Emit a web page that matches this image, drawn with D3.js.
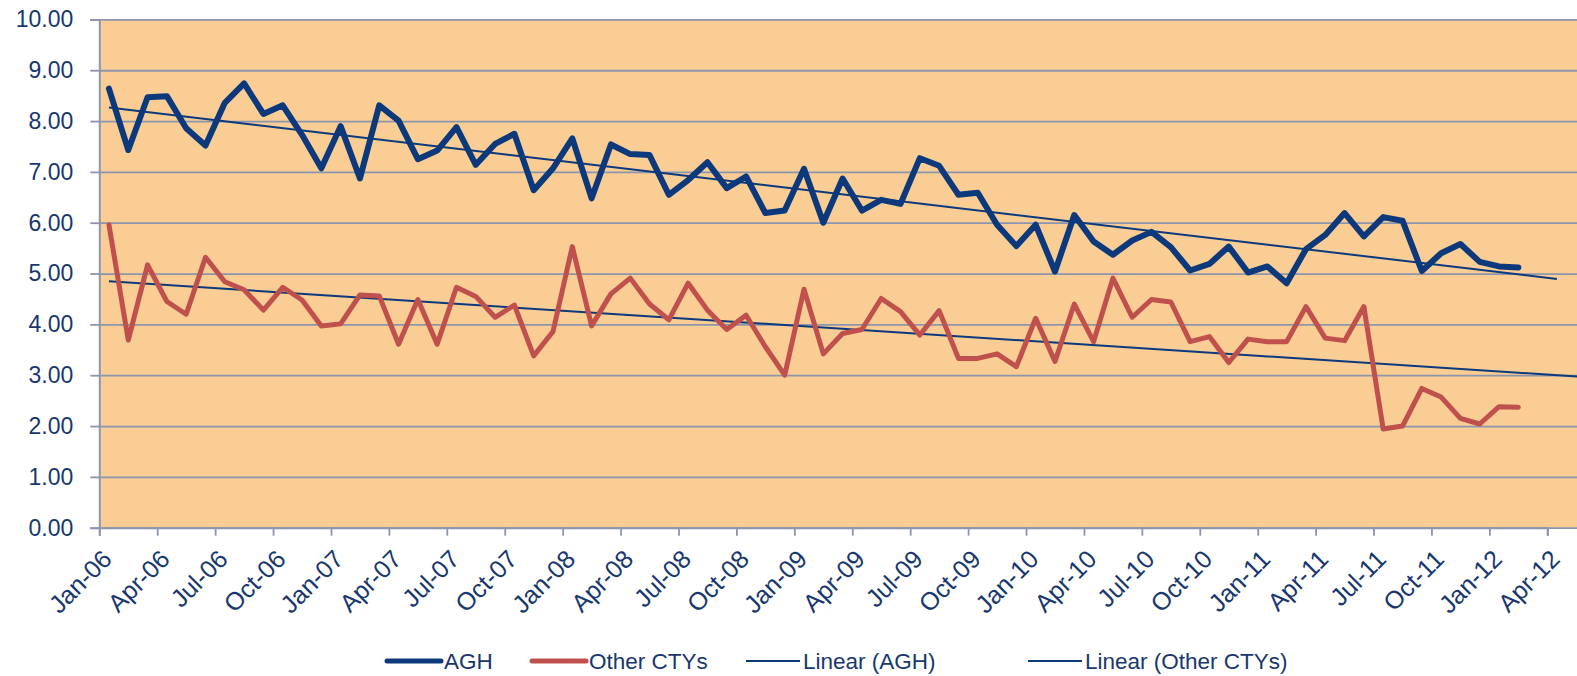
<!DOCTYPE html>
<html>
<head>
<meta charset="utf-8">
<script src="https://cdn.jsdelivr.net/npm/d3@7"></script>
<style>
  html, body { margin: 0; padding: 0; background: #fff; }
  svg { display: block; font-family: "Liberation Sans", Arial, sans-serif; }
</style>
</head>
<body>
<div id="chart"></div>
<script>
// Monthly series, Jan-06 .. Feb-12
const agh = [
    8.64, 7.43, 8.47, 8.49, 7.86, 7.52, 8.36, 8.74, 8.14, 8.31,
    7.73, 7.07, 7.90, 6.87, 8.31, 8.01, 7.25, 7.42, 7.88, 7.14,
    7.55, 7.75, 6.64, 7.07, 7.66, 6.48, 7.54, 7.35, 7.33, 6.55,
    6.84, 7.19, 6.68, 6.91, 6.19, 6.24, 7.06, 6.00, 6.87, 6.24,
    6.45, 6.37, 7.27, 7.12, 6.55, 6.59, 5.96, 5.54, 5.96, 5.04,
    6.15, 5.63, 5.37, 5.65, 5.82, 5.52, 5.06, 5.19, 5.53, 5.02,
    5.14, 4.81, 5.48, 5.76, 6.19, 5.73, 6.11, 6.04, 5.05, 5.40,
    5.58, 5.23, 5.14, 5.12
];
const otherCtys = [
    5.96, 3.69, 5.17, 4.45, 4.20, 5.32, 4.84, 4.68, 4.28, 4.73,
    4.48, 3.97, 4.01, 4.58, 4.56, 3.61, 4.49, 3.61, 4.73, 4.55,
    4.14, 4.38, 3.38, 3.86, 5.53, 3.97, 4.60, 4.91, 4.40, 4.09,
    4.81, 4.28, 3.90, 4.18, 3.56, 3.00, 4.69, 3.42, 3.82, 3.90,
    4.51, 4.25, 3.79, 4.27, 3.33, 3.33, 3.42, 3.17, 4.12, 3.27,
    4.40, 3.66, 4.91, 4.14, 4.49, 4.44, 3.66, 3.76, 3.25, 3.71,
    3.66, 3.66, 4.35, 3.73, 3.68, 4.35, 1.94, 2.00, 2.74, 2.57,
    2.15, 2.04, 2.38, 2.37
];
const tickLabels = [
    "Jan-06", "Apr-06", "Jul-06", "Oct-06", "Jan-07", "Apr-07", "Jul-07", "Oct-07",
    "Jan-08", "Apr-08", "Jul-08", "Oct-08", "Jan-09", "Apr-09", "Jul-09", "Oct-09",
    "Jan-10", "Apr-10", "Jul-10", "Oct-10", "Jan-11", "Apr-11", "Jul-11", "Oct-11",
    "Jan-12", "Apr-12"
];
const yTicks = [0, 1, 2, 3, 4, 5, 6, 7, 8, 9, 10];
const seriesNames = ["AGH", "Other CTYs", "Linear (AGH)", "Linear (Other CTYs)"];

const W = 1577, H = 676;
const plotLeft = 99.3, plotTop = 19.4, plotBottom = 527.7;
const textColor = "#17376e";
const gridColor = "#8d95ad";
const navy = "#0b397c";
const red = "#c0504d";

const svg = d3.select("#chart").append("svg")
    .attr("width", W)
    .attr("height", H);

// month index scale: boundaries at integers, points at i + 0.5
const x = d3.scaleLinear().domain([0, 75]).range([plotLeft, 1547.3]);
const y = d3.scaleLinear().domain([0, 10]).range([plotBottom, plotTop]);

// plot area
svg.append("rect")
    .attr("x", plotLeft).attr("y", plotTop)
    .attr("width", W - plotLeft).attr("height", plotBottom - plotTop)
    .attr("fill", "#f9cd94");

// gridlines
svg.append("g")
    .attr("transform", `translate(${plotLeft},0)`)
    .call(d3.axisLeft(y).tickValues(yTicks).tickSize(-(W - plotLeft)).tickFormat(""))
    .call(g => g.select(".domain").remove())
    .call(g => g.selectAll("line").attr("stroke", gridColor).attr("stroke-width", 1.8));

// y axis
svg.append("g")
    .attr("transform", `translate(${plotLeft},0)`)
    .call(d3.axisLeft(y).tickValues(yTicks).tickSize(9).tickPadding(17).tickFormat(d3.format(".2f")))
    .call(g => g.select(".domain").attr("stroke", gridColor).attr("stroke-width", 2))
    .call(g => g.selectAll("line").attr("stroke", gridColor).attr("stroke-width", 1.8))
    .call(g => g.selectAll("text")
        .attr("fill", textColor)
        .style("font-size", "23px")
        .style("font-family", "'Liberation Sans', Arial, sans-serif"));

// x axis
const monthTicks = d3.range(0, 76, 3);
const xAxis = svg.append("g")
    .attr("transform", `translate(0,${plotBottom})`)
    .call(d3.axisBottom(x).tickValues(monthTicks).tickSize(8)
        .tickFormat(k => tickLabels[k / 3]))
    .call(g => g.select(".domain").attr("stroke", gridColor).attr("stroke-width", 2))
    .call(g => g.selectAll("line").attr("stroke", gridColor).attr("stroke-width", 1.8));

const half = x(0.5) - x(0);
xAxis.selectAll("text")
    .attr("x", null).attr("y", null).attr("dy", null)
    .attr("text-anchor", "end")
    .attr("transform", `translate(${half + 4},33) rotate(-45)`)
    .attr("fill", textColor)
    .style("font-size", "25px")
    .style("font-family", "'Liberation Sans', Arial, sans-serif");

// least squares trend over month index
function trend(values) {
    const n = values.length;
    const xs = d3.range(n);
    const mx = d3.mean(xs), my = d3.mean(values);
    const b = d3.sum(xs, (v, i) => (v - mx) * (values[i] - my)) / d3.sum(xs, v => (v - mx) * (v - mx));
    return i => my + b * (i - mx);
}

const line = d3.line()
    .x(d => x(d[0] + 0.5))
    .y(d => y(d[1]));

function drawTrend(values, forward) {
    const f = trend(values);
    const last = values.length - 1 + forward;
    svg.append("path")
        .attr("d", line([[0, f(0)], [last, f(last)]]))
        .attr("fill", "none")
        .attr("stroke", navy)
        .attr("stroke-width", 2);
}

drawTrend(agh, 2);
drawTrend(otherCtys, 6);

svg.append("path")
    .attr("d", line(otherCtys.map((v, i) => [i, v])))
    .attr("fill", "none")
    .attr("stroke", red)
    .attr("stroke-width", 5)
    .attr("stroke-linejoin", "round")
    .attr("stroke-linecap", "round");

svg.append("path")
    .attr("d", line(agh.map((v, i) => [i, v])))
    .attr("fill", "none")
    .attr("stroke", navy)
    .attr("stroke-width", 6)
    .attr("stroke-linejoin", "round")
    .attr("stroke-linecap", "round");

// legend
const legendX = [387, 532, 746, 1028];
const legendStyle = [
    { color: navy, w: 5 },
    { color: red, w: 5 },
    { color: navy, w: 1.8 },
    { color: navy, w: 1.8 }
];
const legend = svg.append("g").attr("transform", "translate(0,661)");
seriesNames.forEach((name, i) => {
    const g = legend.append("g").attr("transform", `translate(${legendX[i]},0)`);
    g.append("line")
        .attr("x1", 0).attr("x2", 54)
        .attr("stroke", legendStyle[i].color)
        .attr("stroke-width", legendStyle[i].w)
        .attr("stroke-linecap", legendStyle[i].w > 3 ? "round" : "butt");
    g.append("text")
        .attr("x", 57)
        .attr("dy", "0.36em")
        .attr("fill", textColor)
        .style("font-size", "22.5px")
        .text(name);
});
</script>
</body>
</html>
